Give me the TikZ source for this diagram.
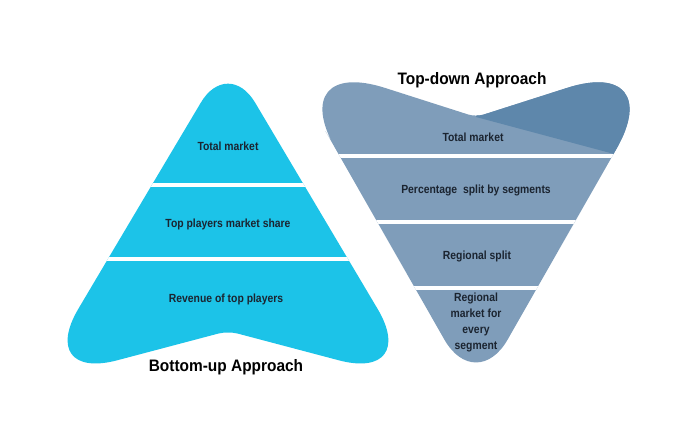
\documentclass[tikz,border=0pt]{standalone}
\usepackage{fontspec}
\setmainfont{Liberation Sans}
\newfontfamily\bandfont[FakeStretch=0.88]{Liberation Sans}
\newfontfamily\titlefont[FakeStretch=0.93]{Liberation Sans}
\usetikzlibrary{positioning}
\definecolor{bottomCyan}{HTML}{1CC3E8}
\definecolor{topSteel}{HTML}{7F9DBA}
\definecolor{topSteelDark}{HTML}{5E87AB}
\definecolor{labelDark}{HTML}{1B2430}
\begin{document}
\begin{tikzpicture}[
    x=1pt, y=-1pt,
    band/.style={font=\bandfont\fontsize{11.8}{16}\selectfont\bfseries, text=labelDark, align=center, inner sep=0pt},
    title/.style={font=\titlefont\fontsize{16.6}{18}\selectfont\bfseries, text=black, inner sep=0pt},
    divider/.style={draw=white, line width=3.5pt},
]
\useasboundingbox (0,0) rectangle (700,447);
\fill[white] (0,0) rectangle (700,447);
% bottom-up pyramid
\begin{scope}
\clip (131,220) [rounded corners=53pt] -- (228,57) [rounded corners=85pt] -- (421,382)
      [rounded corners=10pt] -- (228,331) [rounded corners=85pt] -- (35,382) -- cycle;
\fill[bottomCyan] (0,0) rectangle (700,447);
\draw[divider] (0,185) -- (700,185);
\draw[divider] (0,259) -- (700,259);
\end{scope}
% top-down funnel
\begin{scope}
\clip (379,225) [rounded corners=64pt] -- (476,395) [rounded corners=108pt] -- (670,55)
      [rounded corners=8pt] -- (476,117) [rounded corners=108pt] -- (282,55) -- cycle;
\fill[topSteel] (0,0) rectangle (700,447);
\fill[topSteelDark] (476,117) -- (700,177) -- (700,0) -- (476,0) -- cycle;
\draw[divider] (0,156) -- (700,156);
\draw[divider] (0,222) -- (700,222);
\draw[divider] (0,288) -- (700,288);
\end{scope}
\node[band]  (buTotal)   at (228,146) {Total market};
\node[band]  (buShare)   at (228,224) {Top players market share};
\node[band]  (buRevenue) at (226,299) {Revenue of top players};
\node[title] (buTitle)   at (226,367) {Bottom-up Approach};
\node[title] (tdTitle)   at (472,80)  {Top-down Approach};
\node[band]  (tdTotal)   at (473,137) {Total market};
\node[band]  (tdSplit)   at (476,190) {Percentage\ \ split by segments};
\node[band]  (tdRegion)  at (477,256) {Regional split};
\node[band]  (tdSegment) at (476,322) {Regional\\market for\\every\\segment};
\end{tikzpicture}
\end{document}
